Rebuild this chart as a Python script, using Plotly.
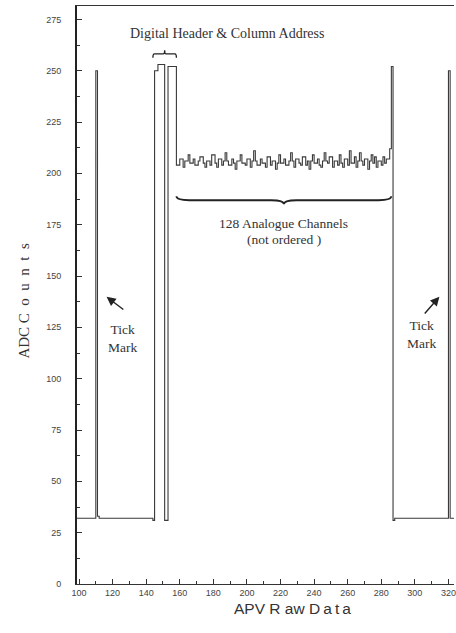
import plotly.graph_objects as go

# ---------------- data ----------------
baseline = 32
tick_mark_left_x = 110
tick_mark_right_x = 320
tick_level = 250
header_start = 145
header_a = [250, 250, 253, 253, 253, 253]      # samples 145-150
header_gap = [31, 31]                           # samples 151-152
header_b = [252, 252, 252, 252, 252]            # samples 153-157
noise_start = 158
analogue = [
    204, 204, 207, 207, 203, 206, 206, 209, 205, 205, 207, 204, 204, 206, 208, 208,
    205, 203, 206, 206, 204, 209, 209, 205, 203, 207, 207, 204, 206, 210, 206, 204,
    204, 207, 205, 202, 206, 206, 209, 205, 205, 204, 207, 207, 203, 206, 211, 206,
    204, 204, 207, 205, 205, 203, 208, 208, 204, 206, 206, 202, 205, 209, 205, 205,
    207, 204, 204, 206, 210, 206, 203, 207, 207, 205, 204, 208, 208, 204, 206, 202,
    206, 209, 205, 205, 207, 204, 203, 206, 210, 206, 205, 208, 208, 203, 206, 206,
    204, 209, 205, 203, 207, 207, 204, 211, 205, 205, 208, 203, 206, 210, 206, 204,
    207, 207, 202, 206, 209, 205, 208, 203, 206, 206, 204, 208, 205, 207, 207, 212,
]                                               # 128 channels, samples 158-285
end_marker = [252, 31]                          # samples 286-287
x_first, x_last = 98, 324

x_tick_vals = list(range(100, 321, 20))
y_tick_vals = list(range(0, 276, 25))

# ---------------- build the sampled waveform ----------------
xs = list(range(x_first, x_last + 1))
ys = []
for x in xs:
    if x == tick_mark_left_x or x == tick_mark_right_x:
        v = tick_level
    elif x == tick_mark_left_x + 1:
        v = baseline + 1
    elif x == header_start - 1:
        v = baseline - 1
    elif header_start <= x < header_start + len(header_a):
        v = header_a[x - header_start]
    elif header_start + len(header_a) <= x < header_start + len(header_a) + len(header_gap):
        v = header_gap[x - header_start - len(header_a)]
    elif header_start + len(header_a) + len(header_gap) <= x < noise_start:
        v = header_b[x - header_start - len(header_a) - len(header_gap)]
    elif noise_start <= x < noise_start + len(analogue):
        v = analogue[x - noise_start]
    elif noise_start + len(analogue) <= x < noise_start + len(analogue) + len(end_marker):
        v = end_marker[x - noise_start - len(analogue)]
    elif x == x_last:
        v = baseline - 1
    else:
        v = baseline
    ys.append(v)

fig = go.Figure()
fig.add_trace(go.Scatter(
    x=xs, y=ys, mode="lines", line=dict(color="#3a3a3a", width=1.1, shape="hv"),
    hoverinfo="skip", showlegend=False,
))

serif = "Liberation Serif, Times New Roman, serif"
sans = "Liberation Sans, Arial, sans-serif"

# ---------------- braces ----------------
def hbrace(x0, x1, y_end, y_mid, y_tip):
    xc = (x0 + x1) / 2
    d = (x1 - x0) * 0.06
    return (f"M {x0},{y_end} Q {x0},{y_mid} {x0 + d},{y_mid} "
            f"L {xc - d},{y_mid} Q {xc},{y_mid} {xc},{y_tip} "
            f"Q {xc},{y_mid} {xc + d},{y_mid} L {x1 - d},{y_mid} "
            f"Q {x1},{y_mid} {x1},{y_end}")

hdr_end = header_start + len(header_a) + len(header_gap) + len(header_b)
fig.add_shape(type="path", xref="x", yref="y",
              path=hbrace(header_start - 1, hdr_end, 256.3, 258.2, 260.0),
              line=dict(color="#222", width=1.3))
fig.add_shape(type="path", xref="x", yref="y",
              path=hbrace(noise_start, noise_start + len(analogue), 188.8, 186.9, 184.9),
              line=dict(color="#222", width=1.8))

# ---------------- annotations ----------------
ann = [
    dict(x=188.0, y=267.9, text="Digital Header & Column Address", size=14),
    dict(x=221.5, y=175.4, text="128 Analogue Channels", size=13.5),
    dict(x=222.0, y=167.6, text="(not ordered )", size=13.5),
    dict(x=125.8, y=119.8, text="Tick<br>Mark", size=13.5),
    dict(x=303.7, y=121.3, text="Tick<br>Mark", size=13.5),
]
for a in ann:
    fig.add_annotation(x=a["x"], y=a["y"], xref="x", yref="y", text=a["text"],
                       showarrow=False, font=dict(family=serif, size=a["size"], color="#333"),
                       align="center")

for head, tail in [((116.4, 139.9), (127.3, 133.1)), ((314.6, 139.9), (305.1, 131.0))]:
    fig.add_annotation(x=head[0], y=head[1], ax=tail[0], ay=tail[1],
                       xref="x", yref="y", axref="x", ayref="y", text="",
                       showarrow=True, arrowhead=2, arrowsize=1.3, arrowwidth=1.4,
                       arrowcolor="#222")

# axis titles
fig.add_annotation(x=-0.166, y=0.491, xref="paper", yref="paper",
                   text="ADC C\u2002o\u2002u\u2002n\u2002t\u2002s", textangle=-90, showarrow=False,
                   font=dict(family=serif, size=15, color="#333"))
fig.add_annotation(x=0.5726, y=-0.0606, xref="paper", yref="paper",
                   text="APV R aw D\u2009a\u2009t\u2009a", showarrow=False,
                   font=dict(family=sans, size=15.5, color="#333"))

fig.update_layout(
    width=456, height=633,
    margin=dict(l=77, r=0, t=6, b=49),
    paper_bgcolor="white", plot_bgcolor="white",
    xaxis=dict(range=[98.8, 323.3], tickvals=x_tick_vals, ticks="inside", ticklen=5,
               tickcolor="#333", showline=True, linecolor="#333", linewidth=1.3,
               mirror=True, showgrid=False, zeroline=False, ticklabeloverflow="allow",
               tickfont=dict(family=sans, size=9, color="#444"),
               minor=dict(dtick=10, tick0=100, ticks="inside", ticklen=3, tickcolor="#333",
                          showgrid=False)),
    yaxis=dict(range=[0, 281.5], tickvals=y_tick_vals, ticks="inside", ticklen=5,
               tickcolor="#333", showline=True, linecolor="#222", linewidth=1.8,
               showgrid=False, zeroline=False, ticklabelstandoff=12,
               tickfont=dict(family=sans, size=9, color="#444"),
               minor=dict(dtick=12.5, tick0=0, ticks="inside", ticklen=3, tickcolor="#333",
                          showgrid=False)),
)

fig.write_html("out.html")
